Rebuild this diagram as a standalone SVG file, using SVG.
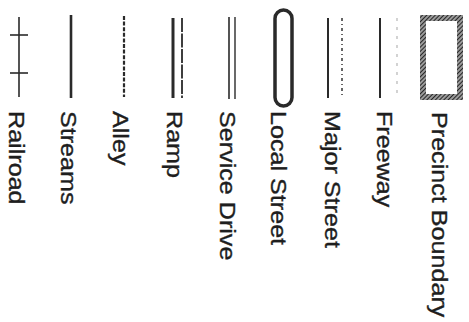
<svg xmlns="http://www.w3.org/2000/svg" width="469" height="322" viewBox="0 0 469 322">
<style>
.lbl{font-family:"Liberation Sans",Arial,Helvetica,sans-serif;font-size:21.5px;fill:#1e1e1e;stroke:#1e1e1e;stroke-width:0.35}
.ln{stroke:#2a2a2a;fill:none}
</style>
<defs>
<pattern id="hatch" width="3" height="3" patternUnits="userSpaceOnUse" patternTransform="rotate(45)">
<rect width="3" height="3" fill="#9a9a9a"/>
<line x1="0" y1="0" x2="0" y2="3" stroke="#262626" stroke-width="2"/>
</pattern>
</defs>
<rect width="469" height="322" fill="#fff"/>
<g id="railroad">
<line class="ln" x1="19" y1="17" x2="19" y2="97" stroke-width="1.6"/>
<line class="ln" x1="10" y1="35" x2="28" y2="35" stroke-width="1.6"/>
<line class="ln" x1="10" y1="73" x2="28" y2="73" stroke-width="1.6"/>
<text class="lbl" transform="translate(8.5,111) rotate(90) scale(1.17,1)">Railroad</text>
</g>
<g id="streams">
<line class="ln" x1="71" y1="15" x2="71" y2="98" stroke-width="2.6"/>
<text class="lbl" transform="translate(60.5,111) rotate(90) scale(1.17,1)">Streams</text>
</g>
<g id="alley">
<line class="ln" x1="124" y1="16" x2="124" y2="97" stroke-width="2.2" stroke-dasharray="4 1.6"/>
<text class="lbl" transform="translate(113,111) rotate(90) scale(1.17,1)">Alley</text>
</g>
<g id="ramp">
<line class="ln" x1="173" y1="18" x2="173" y2="98" stroke-width="3"/>
<line class="ln" x1="182" y1="18" x2="182" y2="98" stroke-width="1.8" stroke-dasharray="14 1.5"/>
<text class="lbl" transform="translate(167,111) rotate(90) scale(1.17,1)">Ramp</text>
</g>
<g id="service-drive">
<line class="ln" x1="229" y1="17" x2="229" y2="99" stroke-width="1.6"/>
<line class="ln" x1="235" y1="17" x2="235" y2="99" stroke-width="1.4"/>
<text class="lbl" transform="translate(219.5,111) rotate(90) scale(1.17,1)">Service Drive</text>
</g>
<g id="local-street">
<rect class="ln" x="275" y="10" width="17" height="96" rx="8.5" stroke-width="3.5"/>
<text class="lbl" transform="translate(271,111) rotate(90) scale(1.17,1)">Local Street</text>
</g>
<g id="major-street">
<line class="ln" x1="328" y1="18" x2="328" y2="98" stroke-width="2"/>
<line x1="342" y1="18" x2="342" y2="98" stroke="#555" stroke-width="1.8" stroke-dasharray="3 3 1 3"/>
<text class="lbl" transform="translate(325,111) rotate(90) scale(1.17,1)">Major Street</text>
</g>
<g id="freeway">
<line class="ln" x1="380" y1="18" x2="380" y2="98" stroke-width="2"/>
<line x1="397" y1="18" x2="397" y2="98" stroke="#c8c8c8" stroke-width="1.6" stroke-dasharray="3 6"/>
<text class="lbl" transform="translate(377,111) rotate(90) scale(1.17,1)">Freeway</text>
</g>
<g id="precinct-boundary">
<rect x="423" y="18" width="37" height="79" fill="none" stroke="url(#hatch)" stroke-width="6"/>
<text class="lbl" transform="translate(432,112) rotate(90) scale(1.17,1)">Precinct Boundary</text>
</g>
<g id="connectors"/>
</svg>
